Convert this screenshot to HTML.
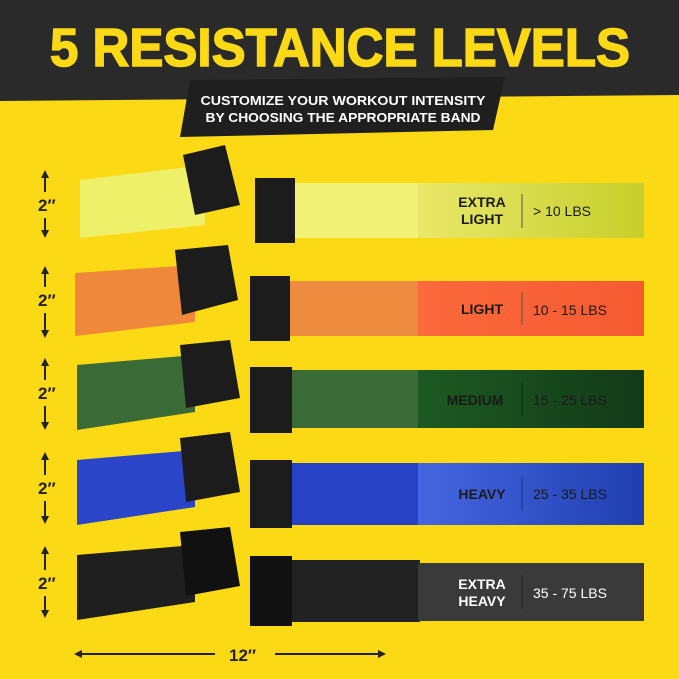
<!DOCTYPE html>
<html><head><meta charset="utf-8"><style>
html,body{margin:0;padding:0;background:#fcd915;}
body{width:679px;height:679px;overflow:hidden;position:relative;font-family:"Liberation Sans",sans-serif;}
</style></head><body>
<svg width="679" height="679" style="position:absolute;left:0;top:0">
<defs>
<linearGradient id="g1" x1="0" x2="1"><stop offset="0" stop-color="#e9e86a"/><stop offset="1" stop-color="#c6cf2a"/></linearGradient>
<linearGradient id="g2" x1="0" x2="1"><stop offset="0" stop-color="#fb6a3c"/><stop offset="1" stop-color="#f65a30"/></linearGradient>
<linearGradient id="g3" x1="0" x2="1"><stop offset="0" stop-color="#1d5a22"/><stop offset="1" stop-color="#123a18"/></linearGradient>
<linearGradient id="g4" x1="0" x2="1"><stop offset="0" stop-color="#4566e0"/><stop offset="1" stop-color="#1f3fb0"/></linearGradient>
</defs>
<polygon points="0,0 679,0 679,95 0,101" fill="#2a2a2a"/>
<polygon points="190,80 505,77 493,130 180,137" fill="#1f1f1f"/>
<g>
<polygon points="80,180 205,165 205,225 80,238" fill="#eef06a"/>
<rect x="255" y="183" width="165" height="55" fill="#f2f277"/>
<rect x="418" y="183" width="226" height="55" fill="url(#g1)"/>
<polygon points="183,155 225,145 240,205 195,215" fill="#1c1c1c"/>
<rect x="255" y="178" width="40" height="65" fill="#1c1c1c"/>
</g>
<g>
<polygon points="75,273 195,265 195,322 75,336" fill="#f0883c"/>
<rect x="250" y="281" width="170" height="55" fill="#ec8a3e"/>
<rect x="418" y="281" width="226" height="55" fill="url(#g2)"/>
<polygon points="175,250 228,245 238,300 182,315" fill="#1c1c1c"/>
<rect x="250" y="276" width="40" height="65" fill="#1c1c1c"/>
</g>
<g>
<polygon points="77,365 195,355 195,412 77,430" fill="#3a6a35"/>
<rect x="250" y="370" width="170" height="58" fill="#3a6a35"/>
<rect x="418" y="370" width="226" height="58" fill="url(#g3)"/>
<polygon points="180,345 230,340 240,398 186,408" fill="#1c1c1c"/>
<rect x="250" y="367" width="42" height="66" fill="#1c1c1c"/>
</g>
<g>
<polygon points="77,460 195,450 195,507 77,525" fill="#2a45c8"/>
<rect x="250" y="463" width="170" height="62" fill="#2742c4"/>
<rect x="418" y="463" width="226" height="62" fill="url(#g4)"/>
<polygon points="180,438 230,432 240,492 186,502" fill="#1c1c1c"/>
<rect x="250" y="460" width="42" height="68" fill="#1c1c1c"/>
</g>
<g>
<polygon points="77,555 195,545 195,602 77,620" fill="#1f1f1f"/>
<rect x="250" y="560" width="170" height="62" fill="#222"/>
<rect x="418" y="563" width="226" height="58" fill="#3a3a3a"/>
<polygon points="180,532 230,527 240,586 186,596" fill="#111"/>
<rect x="250" y="556" width="42" height="70" fill="#111"/>
</g>
<g stroke="#222" stroke-width="2" fill="#222">
<line x1="45" y1="176" x2="45" y2="232"/><line x1="45" y1="272" x2="45" y2="332"/><line x1="45" y1="364" x2="45" y2="424"/><line x1="45" y1="458" x2="45" y2="518"/><line x1="45" y1="552" x2="45" y2="612"/>
<line x1="80" y1="654" x2="380" y2="654"/>
</g>
<g fill="#fcd915">
<rect x="30" y="192" width="30" height="26"/><rect x="30" y="287" width="30" height="26"/><rect x="30" y="380" width="30" height="26"/><rect x="30" y="475" width="30" height="26"/><rect x="30" y="570" width="30" height="26"/>
<rect x="215" y="642" width="60" height="24"/>
</g>
<g fill="#222">
<polygon points="41,178 49,178 45,170"/><polygon points="41,230 49,230 45,238"/>
<polygon points="41,274 49,274 45,266"/><polygon points="41,330 49,330 45,338"/>
<polygon points="41,366 49,366 45,358"/><polygon points="41,422 49,422 45,430"/>
<polygon points="41,460 49,460 45,452"/><polygon points="41,516 49,516 45,524"/>
<polygon points="41,554 49,554 45,546"/><polygon points="41,610 49,610 45,618"/>
<polygon points="82,650 82,658 74,654"/><polygon points="378,650 378,658 386,654"/>
</g>
<g fill="#222" font-family="Liberation Sans" font-weight="bold" font-size="17">
<text x="38" y="211">2″</text><text x="38" y="306">2″</text><text x="38" y="399">2″</text><text x="38" y="494">2″</text><text x="38" y="589">2″</text>
<text x="229" y="661">12″</text>
</g>
<g stroke="#555" stroke-width="1">
<line x1="522" y1="194" x2="522" y2="228"/><line x1="522" y1="292" x2="522" y2="325"/><line x1="522" y1="382" x2="522" y2="416" stroke="#0c2a10"/><line x1="522" y1="477" x2="522" y2="511" stroke="#183090"/><line x1="522" y1="575" x2="522" y2="609" stroke="#222"/>
</g>
<g font-family="Liberation Sans" font-weight="bold" font-size="14" text-anchor="middle" fill="#1a1a1a">
<text x="482" y="207">EXTRA</text><text x="482" y="224">LIGHT</text>
<text x="482" y="314">LIGHT</text>
<text x="475" y="405">MEDIUM</text>
<text x="482" y="499">HEAVY</text>
<text x="482" y="589" fill="#fff">EXTRA</text><text x="482" y="606" fill="#fff">HEAVY</text>
</g>
<g font-family="Liberation Sans" font-size="14" fill="#1a1a1a">
<text x="533" y="216">&gt; 10 LBS</text>
<text x="533" y="315">10 - 15 LBS</text>
<text x="533" y="405">15 - 25 LBS</text>
<text x="533" y="499">25 - 35 LBS</text>
<text x="533" y="598" fill="#fff">35 - 75 LBS</text>
</g>
<text x="340" y="66" text-anchor="middle" font-family="Liberation Sans" font-weight="bold" font-size="54" fill="#fcd915" stroke="#fcd915" stroke-width="1.5" textLength="580" lengthAdjust="spacingAndGlyphs">5 RESISTANCE LEVELS</text>
<g font-family="Liberation Sans" font-weight="bold" font-size="13" fill="#fff" text-anchor="middle">
<text x="343" y="105" textLength="285" lengthAdjust="spacingAndGlyphs">CUSTOMIZE YOUR WORKOUT INTENSITY</text>
<text x="343" y="122" textLength="275" lengthAdjust="spacingAndGlyphs">BY CHOOSING THE APPROPRIATE BAND</text>
</g>
</svg>
</body></html>
